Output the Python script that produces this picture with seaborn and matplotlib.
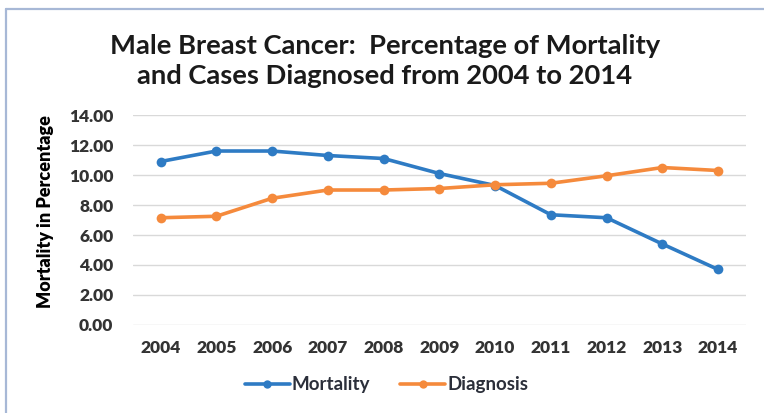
import matplotlib
matplotlib.use("Agg")
import matplotlib.pyplot as plt
from matplotlib.lines import Line2D
import pandas as pd
import seaborn as sns

# Yearly percentages for male breast cancer
years = [2004, 2005, 2006, 2007, 2008, 2009, 2010, 2011, 2012, 2013, 2014]
mortality = [10.9, 11.6, 11.6, 11.3, 11.1, 10.1, 9.3, 7.35, 7.15, 5.4, 3.7]
diagnosis = [7.15, 7.25, 8.45, 9.0, 9.0, 9.1, 9.35, 9.45, 9.95, 10.5, 10.3]
series_names = ["Mortality", "Diagnosis"]
y_ticks = [0, 2, 4, 6, 8, 10, 12, 14]

colors = {"Mortality": "#2E7BC4", "Diagnosis": "#F58A3C"}

df = pd.concat([
    pd.DataFrame({"year": years, "value": mortality, "series": "Mortality"}),
    pd.DataFrame({"year": years, "value": diagnosis, "series": "Diagnosis"}),
])

sns.set_theme(style="white")
plt.rcParams["font.family"] = ["Lato", "DejaVu Sans"]

fig = plt.figure(figsize=(7.64, 4.13), dpi=100)
fig.patch.set_facecolor("white")
ax = fig.add_axes([0.1738, 0.2131, 0.8026, 0.5084])

sns.lineplot(data=df, x="year", y="value", hue="series", hue_order=series_names,
             palette=colors, marker="o", markersize=7, markeredgewidth=0,
             linewidth=2.6, ax=ax, legend=False, zorder=3)

ax.set_xlim(years[0] - 0.5, years[-1] + 0.5)
ax.set_ylim(0, 14)
ax.set_xticks(years)
ax.set_xticklabels([str(y) for y in years])
ax.set_yticks(y_ticks)
ax.set_yticklabels([f"{v:.2f}" for v in y_ticks])
ax.grid(axis="y", color="#D9D9D9", linewidth=1.0, zorder=0)
ax.grid(axis="x", visible=False)
for s in ax.spines.values():
    s.set_visible(False)
ax.tick_params(axis="both", length=0, labelsize=12.5, labelcolor="#333333")
ax.tick_params(axis="x", pad=11)
ax.tick_params(axis="y", pad=14)
for lab in ax.get_xticklabels() + ax.get_yticklabels():
    lab.set_fontweight("heavy")
ax.set_xlabel("")
ax.set_ylabel("Mortality in Percentage", fontsize=13, fontweight="heavy",
              color="black")
ax.yaxis.set_label_coords(-0.1285, 0.538)

fig.text(0.504, 0.889, "Male Breast Cancer:  Percentage of Mortality",
         ha="center", va="center", fontsize=19.7, fontweight="bold", color="#1A1A1A")
fig.text(0.504, 0.815, "and Cases Diagnosed from 2004 to 2014",
         ha="center", va="center", fontsize=19.7, fontweight="bold", color="#1A1A1A")

handles = [Line2D([0], [0], color=colors[n], linewidth=2.6, marker="o",
                  markersize=6, markeredgewidth=0) for n in series_names]
leg = fig.legend(handles, series_names, loc="center", bbox_to_anchor=(0.506, 0.068),
                 ncol=2, frameon=False, handlelength=2.4, handletextpad=0.1,
                 columnspacing=1.6, prop={"size": 13.5, "weight": "bold"})
for t in leg.get_texts():
    t.set_color("#2B2F3A")

# Thin frame along the top and left edges
fig.add_artist(Line2D([0.008, 1.0], [0.978, 0.978], color="#A7B8D6", linewidth=1.6,
                      transform=fig.transFigure))
fig.add_artist(Line2D([0.008, 0.008], [0.0, 0.978], color="#A7B8D6", linewidth=1.6,
                      transform=fig.transFigure))

fig.savefig("out.png", dpi=100, facecolor="white")
